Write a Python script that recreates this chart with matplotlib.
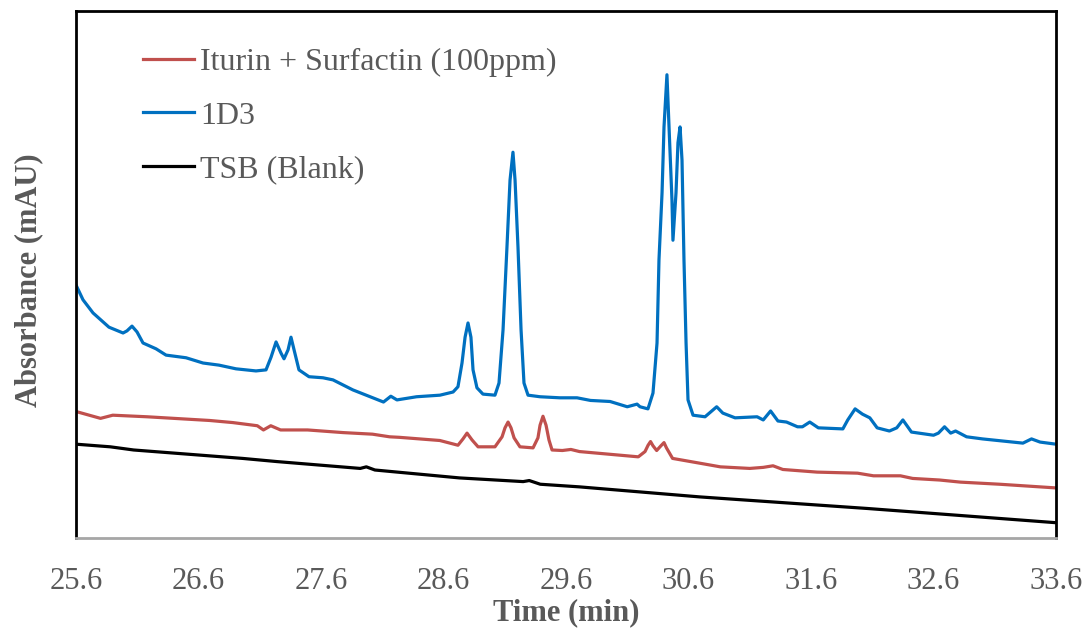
import numpy as np
import matplotlib.pyplot as plt

# HPLC chromatogram, values
t_1d3 = [25.600, 25.657, 25.739, 25.869, 25.984, 26.016, 26.057, 26.098, 26.147, 26.253,
         26.335, 26.498, 26.637, 26.767, 26.906, 27.069, 27.151, 27.192, 27.233, 27.273,
         27.298, 27.331, 27.355, 27.380, 27.420, 27.502, 27.616, 27.698, 27.86, 28.11,
         28.17, 28.22, 28.38, 28.571, 28.678, 28.718, 28.751, 28.776, 28.800, 28.824,
         28.841, 28.873, 28.922, 29.020, 29.053, 29.086, 29.118, 29.143, 29.167, 29.184,
         29.208, 29.233, 29.257, 29.290, 29.388, 29.55, 29.69, 29.80, 29.96, 30.10,
         30.18, 30.204, 30.269, 30.310, 30.343, 30.359, 30.384, 30.400, 30.424, 30.441,
         30.465, 30.473, 30.498, 30.514, 30.531, 30.547, 30.563, 30.580, 30.596, 30.637,
         30.735, 30.83, 30.88, 30.98, 31.16, 31.21, 31.27, 31.33, 31.40, 31.49,
         31.53, 31.59, 31.66, 31.86, 31.90, 31.96, 32.02, 32.08, 32.14, 32.24,
         32.30, 32.35, 32.42, 32.60, 32.64, 32.69, 32.74, 32.78, 32.87, 33.00,
         33.33, 33.40, 33.47, 33.60]
a_1d3 = [48.0, 45.2, 42.7, 40.0, 38.9, 39.3, 40.2, 39.1, 37.0, 35.9,
         34.7, 34.2, 33.2, 32.8, 32.1, 31.7, 31.9, 34.3, 37.2, 35.1,
         34.0, 35.7, 38.1, 35.7, 31.9, 30.6, 30.4, 30.0, 28.1, 25.8,
         26.9, 26.2, 26.8, 27.1, 27.7, 28.7, 33.2, 38.1, 40.8, 38.1,
         31.9, 28.5, 27.3, 27.1, 29.4, 39.5, 55.2, 67.9, 73.2, 67.9,
         55.2, 39.5, 29.4, 27.1, 26.8, 26.6, 26.6, 26.1, 25.9, 24.9,
         25.4, 24.9, 24.5, 27.5, 37.0, 52.8, 65.5, 78.0, 87.9, 78.0,
         64.1, 56.5, 65.5, 75.0, 78.0, 71.7, 52.8, 37.0, 26.2, 23.3,
         23.0, 24.9, 23.7, 22.8, 23.0, 22.4, 24.1, 22.2, 22.0, 21.1,
         21.1, 22.0, 20.9, 20.7, 22.4, 24.5, 23.5, 22.8, 20.9, 20.3,
         20.9, 22.4, 20.1, 19.5, 19.9, 21.1, 19.9, 20.3, 19.2, 18.8,
         18.0, 18.8, 18.2, 17.8]

t_std = [25.60, 25.80, 25.90, 26.18, 26.69, 26.88, 27.08, 27.13, 27.19, 27.27,
         27.49, 27.78, 28.02, 28.16, 28.24, 28.57, 28.718, 28.759, 28.792, 28.833,
         28.882, 29.020, 29.078, 29.102, 29.127, 29.151, 29.176, 29.224, 29.331, 29.371,
         29.388, 29.412, 29.437, 29.461, 29.486, 29.57, 29.64, 29.71, 30.19, 30.245,
         30.27, 30.29, 30.31, 30.34, 30.375, 30.40, 30.42, 30.47, 30.69, 30.86,
         31.10, 31.21, 31.29, 31.37, 31.65, 31.98, 32.11, 32.33, 32.43, 32.65,
         32.82, 33.14, 33.60]
a_std = [24.0, 22.7, 23.3, 23.0, 22.3, 21.9, 21.3, 20.5, 21.3, 20.5,
         20.5, 20.0, 19.7, 19.2, 19.1, 18.5, 17.6, 18.8, 19.9, 18.6,
         17.3, 17.3, 19.2, 20.9, 22.0, 20.9, 19.0, 17.3, 17.1, 19.0,
         21.4, 23.1, 21.4, 18.6, 16.7, 16.6, 16.8, 16.4, 15.4, 16.4,
         17.6, 18.3, 17.5, 16.6, 17.5, 18.1, 17.1, 15.1, 14.2, 13.5,
         13.2, 13.4, 13.7, 13.0, 12.5, 12.3, 11.8, 11.8, 11.3, 11.0,
         10.6, 10.2, 9.5]

t_tsb = [25.60, 25.88, 26.07, 26.96, 27.24, 27.92, 27.97, 28.04, 28.73, 29.25,
         29.30, 29.39, 29.71, 30.69, 32.06, 33.60]
a_tsb = [17.8, 17.3, 16.7, 15.1, 14.5, 13.2, 13.5, 12.9, 11.4, 10.7,
         10.9, 10.2, 9.7, 7.8, 5.6, 2.9]

ticks = [25.6, 26.6, 27.6, 28.6, 29.6, 30.6, 31.6, 32.6, 33.6]

plt.rcParams['font.family'] = ['Liberation Serif', 'DejaVu Serif']
grey = '#595959'

fig = plt.figure(figsize=(10.89, 6.31), dpi=100)
ax = fig.add_axes([0.0698, 0.1474, 0.8999, 0.8352])

ax.plot(t_std, a_std, color='#C0504D', lw=2.3, label='Iturin + Surfactin (100ppm)',
        solid_joinstyle='round')
ax.plot(t_1d3, a_1d3, color='#0070C0', lw=2.3, label='1D3', solid_joinstyle='round')
ax.plot(t_tsb, a_tsb, color='black', lw=2.3, label='TSB (Blank)', solid_joinstyle='round')

ax.set_xlim(25.6, 33.6)
ax.set_ylim(0, 100)
ax.set_xticks(ticks)
ax.set_xticklabels(['%.1f' % v for v in ticks])
ax.set_yticks([])
ax.tick_params(axis='x', length=0, pad=21, labelsize=22, labelcolor=grey)

for s in ['left', 'top', 'right']:
    ax.spines[s].set_color('black')
    ax.spines[s].set_linewidth(2)
ax.spines['bottom'].set_color('#a6a6a6')
ax.spines['bottom'].set_linewidth(2)

ax.set_xlabel('Time (min)', fontsize=22, fontweight='bold', color=grey)
ax.xaxis.set_label_coords(0.5, -0.115)
ax.set_ylabel('Absorbance (mAU)', fontsize=22, fontweight='bold', color=grey)
ax.yaxis.set_label_coords(-0.033, 0.49)

leg = ax.legend(loc='upper left', bbox_to_anchor=(0.068, 0.93), frameon=False,
                fontsize=23, handlelength=1.6, handletextpad=0.2,
                labelspacing=0.75, borderpad=0, borderaxespad=0)
for txt in leg.get_texts():
    txt.set_color(grey)

fig.savefig('out.png', dpi=100)
